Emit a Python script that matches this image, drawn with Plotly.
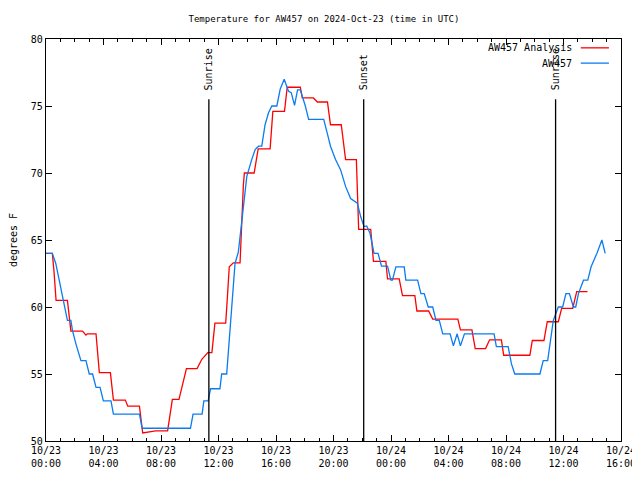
import pandas as pd
import plotly.graph_objects as go

BASE = pd.Timestamp("2024-10-23 00:00")

# AW457 Analysis (red): hours since 10/23 00:00 UTC, temperature °F
analysis_hours = [0.0, 0.44, 0.56, 0.63, 0.70, 1.49, 1.61, 1.73, 2.54, 2.78, 2.87, 3.48, 3.71, 4.48,
                  4.69, 5.52, 5.69, 6.50, 6.73, 7.62, 8.46, 8.79, 9.25, 9.77, 10.51, 10.84, 11.26,
                  11.54, 11.75, 12.50, 12.62, 12.75, 13.03, 13.50, 13.73, 13.80, 14.48, 14.76, 15.59,
                  15.78, 16.59, 16.78, 17.69, 17.83, 18.60, 18.88, 19.58, 19.79, 20.54, 20.84, 21.59,
                  21.75, 22.59, 22.78, 23.64, 23.76, 24.57, 24.80, 25.66, 25.80, 26.62, 26.90, 28.65,
                  28.83, 29.63, 29.86, 30.58, 30.86, 31.68, 31.84, 33.66, 33.83, 34.64, 34.87, 35.64,
                  35.87, 36.64, 36.92, 37.67]
analysis_temp = [64.0, 64.0, 62.6, 61.8, 60.5, 60.5, 59.5, 58.2, 58.2, 57.9, 58.0, 58.0, 55.1, 55.1,
                 53.05, 53.05, 52.6, 52.6, 50.6, 50.75, 50.75, 53.1, 53.1, 55.4, 55.4, 56.1, 56.6,
                 56.6, 58.8, 58.8, 60.75, 63.0, 63.3, 63.3, 69.1, 70.0, 70.0, 71.8, 71.8,
                 74.6, 74.6, 76.4, 76.4, 75.6, 75.6, 75.3, 75.3, 73.6, 73.6, 71.0, 71.0,
                 65.8, 65.8, 63.4, 63.4, 62.1, 62.1, 60.85, 60.85, 59.7, 59.7, 59.1, 59.1,
                 58.3, 58.3, 56.9, 56.9, 57.55, 57.55, 56.4, 56.4, 57.5, 57.5, 58.9, 58.9,
                 59.9, 59.9, 61.15, 61.15]

# AW457 observations (blue)
obs_hours = [0.0, 0.44, 0.68, 0.91, 1.14, 1.33, 1.49, 1.73, 1.84, 2.08, 2.43, 2.78, 3.01, 3.24, 3.48,
             3.76, 3.99, 4.52, 4.69, 6.50, 6.69, 10.05, 10.23, 10.86, 10.98, 11.28, 11.45, 12.10,
             12.22, 12.57, 12.80, 12.96, 13.15, 13.38, 13.57, 13.73, 13.97, 14.31, 14.55, 14.78,
             15.01, 15.24, 15.48, 15.71, 16.06, 16.29, 16.57, 16.87, 17.06, 17.29, 17.50, 17.69,
             18.04, 18.27, 19.32, 19.56, 19.79, 20.14, 20.49, 20.84, 21.19, 21.66, 21.89, 22.12,
             22.31, 22.54, 22.82, 23.10, 23.34, 23.76, 23.99, 24.10, 24.34, 24.92, 25.03, 25.85,
             26.08, 26.31, 26.59, 26.90, 27.13, 27.36, 27.60, 28.11, 28.34, 28.60, 28.83, 29.11,
             31.17, 31.33, 32.15, 32.38, 32.61, 34.36, 34.59, 34.90, 35.06, 35.29, 35.64, 35.94,
             36.17, 36.41, 36.69, 36.85, 37.04, 37.39, 37.69, 37.92, 38.32, 38.67, 38.90]
obs_temp = [64.0, 64.0, 63.25, 62.0, 60.75, 59.75, 59.0, 59.0, 58.25, 57.25, 56.0, 56.0, 55.0, 55.0, 54.0,
            54.0, 53.0, 53.0, 52.0, 52.0, 50.95, 50.95, 52.0, 52.0, 53.0, 53.0, 53.9, 53.9,
            55.0, 55.0, 58.5, 60.75, 63.25, 64.1, 66.0, 67.75, 69.75, 71.0, 71.75, 72.0,
            72.0, 73.6, 74.5, 75.0, 75.0, 76.25, 77.0, 76.1, 76.0, 75.05, 76.2, 76.2,
            75.0, 74.0, 74.0, 73.0, 72.0, 71.0, 70.25, 69.0, 68.1, 67.75, 66.75, 66.0,
            66.05, 65.5, 64.0, 64.0, 63.05, 63.05, 62.0, 62.0, 63.0, 63.0, 62.0, 62.0,
            61.0, 61.0, 60.0, 60.0, 59.0, 59.0, 58.0, 58.0, 57.1, 58.0, 57.1, 58.0,
            58.0, 57.05, 57.05, 55.75, 55.0, 55.0, 56.0, 56.0, 57.25, 59.0, 60.0, 60.0,
            61.0, 61.0, 60.0, 60.0, 61.0, 62.0, 62.0, 63.0, 64.0, 65.0, 64.0]

# Sun events
event_labels = ["Sunrise", "Sunset", "Sunrise"]
event_hours = [11.33, 22.10, 35.45]
event_top = 75.5

series_names = ["AW457 Analysis", "AW457"]
series_colors = ["#ff0000", "#0a7cf0"]

x_ticks_hours = [0, 4, 8, 12, 16, 20, 24, 28, 32, 36, 40]


def to_time(hours):
    return BASE + pd.to_timedelta(pd.Series(hours, dtype=float), unit="h")


FONT = "DejaVu Sans Mono"
FS = 9
# page body adds an 8px offset; size the figure to fill the remaining window
W, H = 632, 472
fig = go.Figure()

fig.add_trace(go.Scatter(x=to_time(analysis_hours), y=analysis_temp, mode="lines",
                         line=dict(color=series_colors[0], width=1.3), name=series_names[0],
                         showlegend=False))
fig.add_trace(go.Scatter(x=to_time(obs_hours), y=obs_temp, mode="lines",
                         line=dict(color=series_colors[1], width=1.3), name=series_names[1],
                         showlegend=False))

ev_times = to_time(event_hours)
for lab, t in zip(event_labels, ev_times):
    fig.add_trace(go.Scatter(x=[t, t], y=[50, event_top], mode="lines",
                             line=dict(color="black", width=1.3), showlegend=False,
                             hoverinfo="skip"))
    fig.add_annotation(x=t, y=event_top + 0.5, text=lab, textangle=-90, showarrow=False,
                       xanchor="center", yanchor="bottom", font=dict(family=FONT, size=FS + 1, color="black"))

# gnuplot-style legend (text, then sample line on the right)
leg_y = [0.978, 0.940]
for name, col, yy in zip(series_names, series_colors, leg_y):
    fig.add_annotation(x=0.918, y=yy, xref="paper", yref="paper", text=name, showarrow=False,
                       xanchor="right", yanchor="middle", font=dict(family=FONT, size=FS + 1, color="black"))
    fig.add_shape(type="line", xref="paper", yref="paper", x0=0.930, x1=0.979, y0=yy, y1=yy,
                  line=dict(color=col, width=1.3))

tick_times = to_time(x_ticks_hours)
fig.update_layout(
    width=W, height=H,
    margin=dict(l=38, r=19, t=31, b=39, autoexpand=False),
    paper_bgcolor="white", plot_bgcolor="white",
    font=dict(family=FONT, size=FS, color="black"),
    title=dict(text="Temperature for AW457 on 2024-Oct-23 (time in UTC)", x=0.5, xanchor="center",
               y=1 - 11 / H, yanchor="middle", font=dict(family=FONT, size=FS)),
    showlegend=False,
)
fig.update_xaxes(
    type="date", range=[tick_times.iloc[0], tick_times.iloc[-1]], automargin=False,
    tickvals=list(tick_times), ticktext=[t.strftime("%m/%d<br>%H:%M") for t in tick_times],
    ticks="inside", ticklen=6, tickcolor="black", tickwidth=1,
    minor=dict(ticks="inside", ticklen=3, dtick=3600000, tickcolor="black"),
    showline=True, linecolor="black", linewidth=1.3, mirror="ticks", showgrid=False, zeroline=False,
    tickfont=dict(family=FONT, size=FS + 1),
)
fig.update_yaxes(
    range=[50, 80], tickvals=[50, 55, 60, 65, 70, 75, 80], automargin=False,
    ticks="inside", ticklen=6, tickcolor="black",
    showline=True, linecolor="black", linewidth=1.3, mirror="ticks", showgrid=False, zeroline=False,
    title=dict(text="degrees F", font=dict(family=FONT, size=FS + 1), standoff=12),
    tickfont=dict(family=FONT, size=FS + 1),
)

fig.write_html("out.html")
